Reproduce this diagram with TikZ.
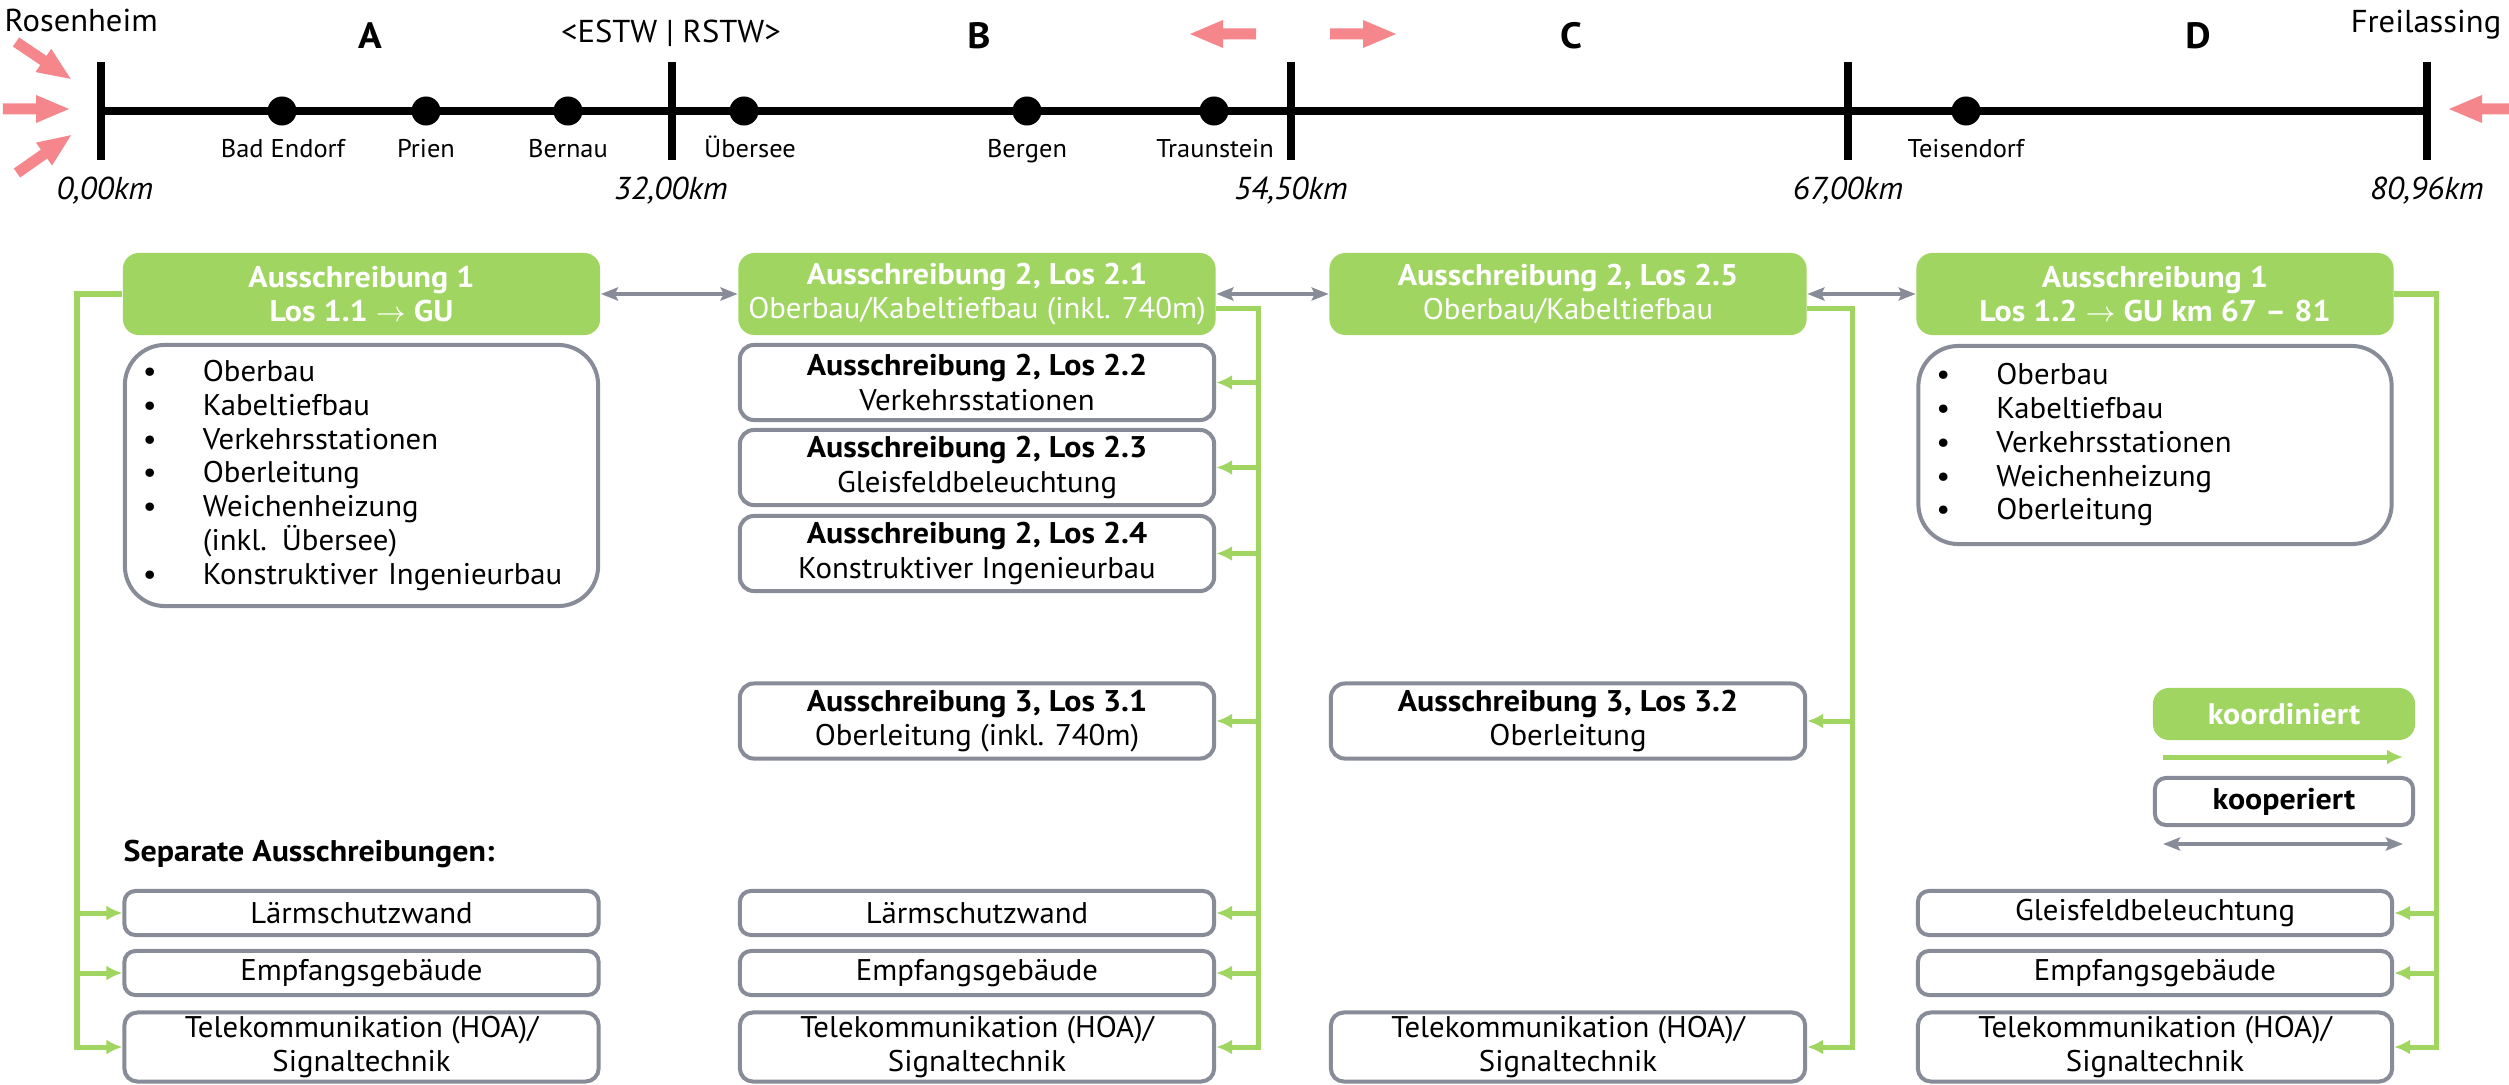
\documentclass[tikz,border=0pt]{standalone}
\usepackage{fontspec}
\setmainfont{PT Sans}[FakeStretch=1.03, BoldFeatures={FakeStretch=1.07}]
\usetikzlibrary{arrows.meta}
\definecolor{dbgreen}{RGB}{160,213,98}
\definecolor{dbgray}{RGB}{135,140,152}
\definecolor{dbpink}{RGB}{244,134,140}
\newcommand\pinkarrow[3]{\fill[dbpink, shift={(#1,#2)}, rotate=#3] (0,-5.5) -- (33,-5.5) -- (33,-14) -- (66,0) -- (33,14) -- (33,5.5) -- (0,5.5) -- cycle;}
\begin{document}
\begin{tikzpicture}[x=0.01cm,y=-0.01cm,
  bodyfont/.style={font=\fontsize{8.5pt}{9.7pt}\selectfont},
  gbox/.style={bodyfont, fill=dbgreen, draw=none, rounded corners=0.16cm, text=white, align=center, minimum width=4.77cm, minimum height=0.82cm, inner sep=0pt},
  wbox/.style={bodyfont, draw=dbgray, line width=0.04cm, fill=white, rounded corners=0.14cm, align=center, minimum width=4.74cm, minimum height=0.75cm, inner sep=0pt},
  sbox/.style={wbox, rounded corners=0.11cm, minimum height=0.44cm},
  tbox/.style={wbox, rounded corners=0.13cm, minimum height=0.69cm},
  lbox/.style={font=\fontsize{8.5pt}{9.6pt}\selectfont, draw=dbgray, line width=0.04cm, fill=white, rounded corners=0.4cm, align=left, inner xsep=0.18cm, inner ysep=0pt, text width=4.37cm},
  gline/.style={draw=dbgreen, line width=0.05cm},
  gtip/.style={gline, -{Latex[length=0.16cm,width=0.15cm]}},
  gboth/.style={draw=dbgray, line width=0.045cm, {Stealth[length=0.17cm,width=0.13cm,inset=0.03cm]}-{Stealth[length=0.17cm,width=0.13cm,inset=0.03cm]}},
  tl/.style={line width=0.08cm, draw=black},
  dot/.style={circle, fill=black, minimum size=0.29cm, inner sep=0pt},
  stl/.style={font=\fontsize{7.3pt}{8.5pt}\selectfont, inner sep=0pt},
  kml/.style={font=\fontsize{9pt}{10pt}\selectfont\itshape, inner sep=0pt},
  sec/.style={font=\fontsize{10.4pt}{12pt}\selectfont\bfseries, inner sep=0pt},
  city/.style={font=\fontsize{9pt}{10pt}\selectfont, inner sep=0pt}
]
\fill[white] (0,0) rectangle (2509,1085);
\useasboundingbox (0,0) rectangle (2509,1085);

% ---------- timeline ----------
\coordinate (t0) at (101,111);
\coordinate (t1) at (672,111);
\coordinate (t2) at (1291,111);
\coordinate (t3) at (1848,111);
\coordinate (t4) at (2427,111);
\draw[tl] (t0) -- (t4);
\foreach \x in {101,672,1291,1848,2427} \draw[tl] (\x,62) -- (\x,160);

\node[dot] (d1) at (282,111) {};
\node[dot] (d2) at (426,111) {};
\node[dot] (d3) at (568,111) {};
\node[dot] (d4) at (744,111) {};
\node[dot] (d5) at (1027,111) {};
\node[dot] (d6) at (1214,111) {};
\node[dot] (d7) at (1966,111) {};

\node[stl, anchor=base] (l1) at (283,158) {Bad Endorf};
\node[stl, anchor=base] (l2) at (426,158) {Prien};
\node[stl, anchor=base] (l3) at (568,158) {Bernau};
\node[stl, anchor=base] (l4) at (750,158) {Übersee};
\node[stl, anchor=base] (l5) at (1027,158) {Bergen};
\node[stl, anchor=base] (l6) at (1215,158) {Traunstein};
\node[stl, anchor=base] (l7) at (1966,158) {Teisendorf};

\node[kml, anchor=base] (k0) at (105,200) {0,00km};
\node[kml, anchor=base] (k1) at (671,200) {32,00km};
\node[kml, anchor=base] (k2) at (1291,200) {54,50km};
\node[kml, anchor=base] (k3) at (1848,200) {67,00km};
\node[kml, anchor=base] (k4) at (2427,200) {80,96km};

\node[sec, anchor=base] (sA) at (370,49) {A};
\node[sec, anchor=base] (sB) at (979,49) {B};
\node[sec, anchor=base] (sC) at (1571,49) {C};
\node[sec, anchor=base] (sD) at (2198,49) {D};

\node[city, anchor=base] (estw) at (671,43) {<ESTW | RSTW>};
\node[city, anchor=base west] (ros) at (4,32) {Rosenheim};
\node[city, anchor=base] (frei) at (2426,33) {Freilassing};

\pinkarrow{16}{42}{-34}
\pinkarrow{3}{109}{0}
\pinkarrow{17}{173}{35}
\pinkarrow{1256}{34}{180}
\pinkarrow{1330}{34}{0}
\pinkarrow{2515}{109}{180}

% ---------- column A ----------
\node[gbox] (A1) at (361.5,294) {\textbf{Ausschreibung 1}\\\textbf{Los 1.1 $\rightarrow$ GU}};
\node[lbox, minimum height=2.61cm] (AL) at (361.5,475.5) {%
\makebox[0.6cm][l]{•}Oberbau\\
\makebox[0.6cm][l]{•}Kabeltiefbau\\
\makebox[0.6cm][l]{•}Verkehrsstationen\\
\makebox[0.6cm][l]{•}Oberleitung\\
\makebox[0.6cm][l]{•}Weichenheizung\\
\hspace*{0.6cm}(inkl. Übersee)\\
\makebox[0.6cm][l]{•}Konstruktiver Ingenieurbau};
\node[bodyfont, anchor=base west, inner sep=0pt] (sep) at (123,861) {\textbf{Separate Ausschreibungen:}};
\node[sbox] (AS1) at (361.5,913) {Lärmschutzwand};
\node[sbox] (AS2) at (361.5,973) {Empfangsgebäude};
\node[tbox] (AS3) at (361.5,1047) {Telekommunikation (HOA)/\\Signaltechnik};

% ---------- column B ----------
\node[gbox] (B1) at (977,294) {\textbf{Ausschreibung 2, Los 2.1}\\Oberbau/Kabeltiefbau (inkl. 740m)};
\node[wbox] (B2) at (977,382.5) {\textbf{Ausschreibung 2, Los 2.2}\\Verkehrsstationen};
\node[wbox] (B3) at (977,467.5) {\textbf{Ausschreibung 2, Los 2.3}\\Gleisfeldbeleuchtung};
\node[wbox] (B4) at (977,553.5) {\textbf{Ausschreibung 2, Los 2.4}\\Konstruktiver Ingenieurbau};
\node[wbox] (B5) at (977,721) {\textbf{Ausschreibung 3, Los 3.1}\\Oberleitung (inkl. 740m)};
\node[sbox] (BS1) at (977,913) {Lärmschutzwand};
\node[sbox] (BS2) at (977,973) {Empfangsgebäude};
\node[tbox] (BS3) at (977,1047) {Telekommunikation (HOA)/\\Signaltechnik};

% ---------- column C ----------
\node[gbox] (C1) at (1568,294) {\textbf{Ausschreibung 2, Los 2.5}\\Oberbau/Kabeltiefbau};
\node[wbox] (C2) at (1568,721) {\textbf{Ausschreibung 3, Los 3.2}\\Oberleitung};
\node[tbox] (CS3) at (1568,1047) {Telekommunikation (HOA)/\\Signaltechnik};

% ---------- column D ----------
\node[gbox] (D1) at (2155,294) {\textbf{Ausschreibung 1}\\\textbf{Los 1.2 $\rightarrow$ GU km 67 – 81}};
\node[lbox, minimum height=1.98cm] (DL) at (2155,445) {%
\makebox[0.6cm][l]{•}Oberbau\\
\makebox[0.6cm][l]{•}Kabeltiefbau\\
\makebox[0.6cm][l]{•}Verkehrsstationen\\
\makebox[0.6cm][l]{•}Weichenheizung\\
\makebox[0.6cm][l]{•}Oberleitung};
\node[sbox] (DS1) at (2155,913) {Gleisfeldbeleuchtung};
\node[sbox] (DS2) at (2155,973) {Empfangsgebäude};
\node[tbox] (DS3) at (2155,1047) {Telekommunikation (HOA)/\\Signaltechnik};

% ---------- legend ----------
\node[gbox, minimum width=2.62cm, minimum height=0.52cm] (LK) at (2284,714) {\textbf{koordiniert}};
\coordinate (LG1) at (2163,757);
\coordinate (LG2) at (2403,757);
\node[wbox, minimum width=2.58cm, minimum height=0.47cm, rounded corners=0.11cm] (LP) at (2284,801.5) {\textbf{kooperiert}};
\coordinate (LP1) at (2163,844);
\coordinate (LP2) at (2403,844);
\draw[gtip] (LG1) -- (LG2);
\draw[gboth] (LP1) -- (LP2);

% ---------- connectors ----------
\draw[gboth] (A1.east) -- (B1.west);
\draw[gboth] (B1.east) -- (C1.west);
\draw[gboth] (C1.east) -- (D1.west);

\coordinate (aX) at (77,294);
\draw[gtip] (A1.west) -| (aX |- AS3.west) -- (AS3.west);
\draw[gtip] (aX |- AS1.west) -- (AS1.west);
\draw[gtip] (aX |- AS2.west) -- (AS2.west);

\coordinate (bX) at (1258,308);
\draw[gtip] ([yshift=-0.14cm]B1.east) -| (bX |- BS3.east) -- (BS3.east);
\draw[gtip] (bX |- B2.east) -- (B2.east);
\draw[gtip] (bX |- B3.east) -- (B3.east);
\draw[gtip] (bX |- B4.east) -- (B4.east);
\draw[gtip] (bX |- B5.east) -- (B5.east);
\draw[gtip] (bX |- BS1.east) -- (BS1.east);
\draw[gtip] (bX |- BS2.east) -- (BS2.east);

\coordinate (cX) at (1852,308);
\draw[gtip] ([yshift=-0.14cm]C1.east) -| (cX |- CS3.east) -- (CS3.east);
\draw[gtip] (cX |- C2.east) -- (C2.east);

\coordinate (dX) at (2436,294);
\draw[gtip] (D1.east) -| (dX |- DS3.east) -- (DS3.east);
\draw[gtip] (dX |- DS1.east) -- (DS1.east);
\draw[gtip] (dX |- DS2.east) -- (DS2.east);
\end{tikzpicture}
\end{document}
